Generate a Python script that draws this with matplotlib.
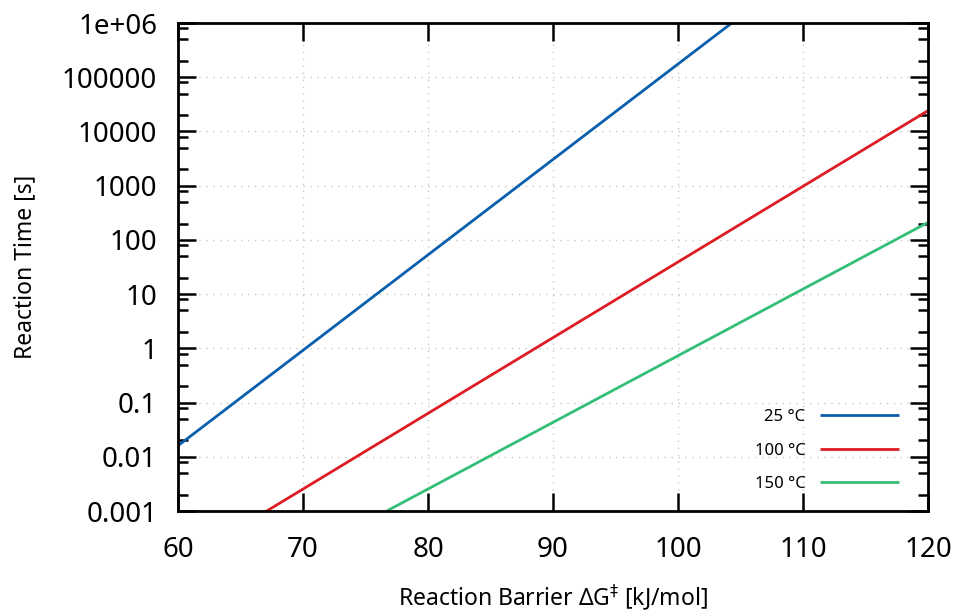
import matplotlib
matplotlib.use("Agg")
import matplotlib.pyplot as plt
from matplotlib.ticker import FixedLocator, FixedFormatter, NullFormatter

plt.rcParams['font.family'] = ['Noto Sans', 'DejaVu Sans']

# Data (straight lines on log axis, endpoints)
series_labels = ["25 °C", "100 °C", "150 °C"]
series_colors = ["#0a5fad", "#dd1c24", "#34be78"]
barrier_25 = [60.0, 104.3]
time_25 = [0.016, 1e6]
barrier_100 = [67.1, 120.0]
time_100 = [0.001, 24200]
barrier_150 = [76.7, 120.0]
time_150 = [0.001, 210]

xticks = [60, 70, 80, 90, 100, 110, 120]
yticks = [1e-3, 1e-2, 1e-1, 1, 10, 100, 1000, 1e4, 1e5, 1e6]
ytick_labels = ["0.001", "0.01", "0.1", "1", "10", "100", "1000", "10000", "100000", "1e+06"]
yminor = [m * 10.0**e for e in range(-3, 6) for m in (2, 5, 8)]

fig = plt.figure(figsize=(9.55, 6.10), dpi=100)
ax = fig.add_axes([178/955, 1 - 511/610, (928-178)/955, (511-23)/610])

for xs, ys, lab, col in zip([barrier_25, barrier_100, barrier_150],
                            [time_25, time_100, time_150],
                            series_labels, series_colors):
    ax.plot(xs, ys, color=col, lw=2.0, label=lab, solid_capstyle='butt')

ax.set_yscale('log')
ax.set_xlim(60, 120)
ax.set_ylim(1e-3, 1e6)

ax.xaxis.set_major_locator(FixedLocator(xticks))
ax.xaxis.set_major_formatter(FixedFormatter([str(v) for v in xticks]))
ax.yaxis.set_major_locator(FixedLocator(yticks))
ax.yaxis.set_major_formatter(FixedFormatter(ytick_labels))
ax.yaxis.set_minor_locator(FixedLocator(yminor))
ax.yaxis.set_minor_formatter(NullFormatter())
ax.xaxis.set_minor_locator(FixedLocator([]))

ax.tick_params(axis='both', which='major', direction='in', length=13, width=1.8,
               top=True, right=True, colors='black')
ax.tick_params(axis='y', which='minor', direction='in', length=7, width=1.8,
               left=True, right=True)
ax.tick_params(axis='y', which='major', pad=15)
ax.tick_params(axis='x', which='major', pad=18)
for lbl in ax.get_xticklabels() + ax.get_yticklabels():
    lbl.set_fontsize(20)

for sp in ax.spines.values():
    sp.set_linewidth(2.0)
    sp.set_color('black')

ax.grid(True, which='major', color='#c8c8c8', linestyle=(0, (1, 4)), linewidth=1.0)
ax.set_axisbelow(True)

ax.set_xlabel("Reaction Barrier ΔG$^{‡}$ [kJ/mol]", fontsize=16.5, labelpad=13)
ax.set_ylabel("Reaction Time [s]", fontsize=16.5, labelpad=18)

leg = ax.legend(loc='lower right', bbox_to_anchor=(0.981, 0.008), frameon=False,
                markerfirst=False, fontsize=12, handlelength=4.7,
                labelspacing=1.05, handletextpad=0.9)

fig.savefig("out.png", dpi=100)
